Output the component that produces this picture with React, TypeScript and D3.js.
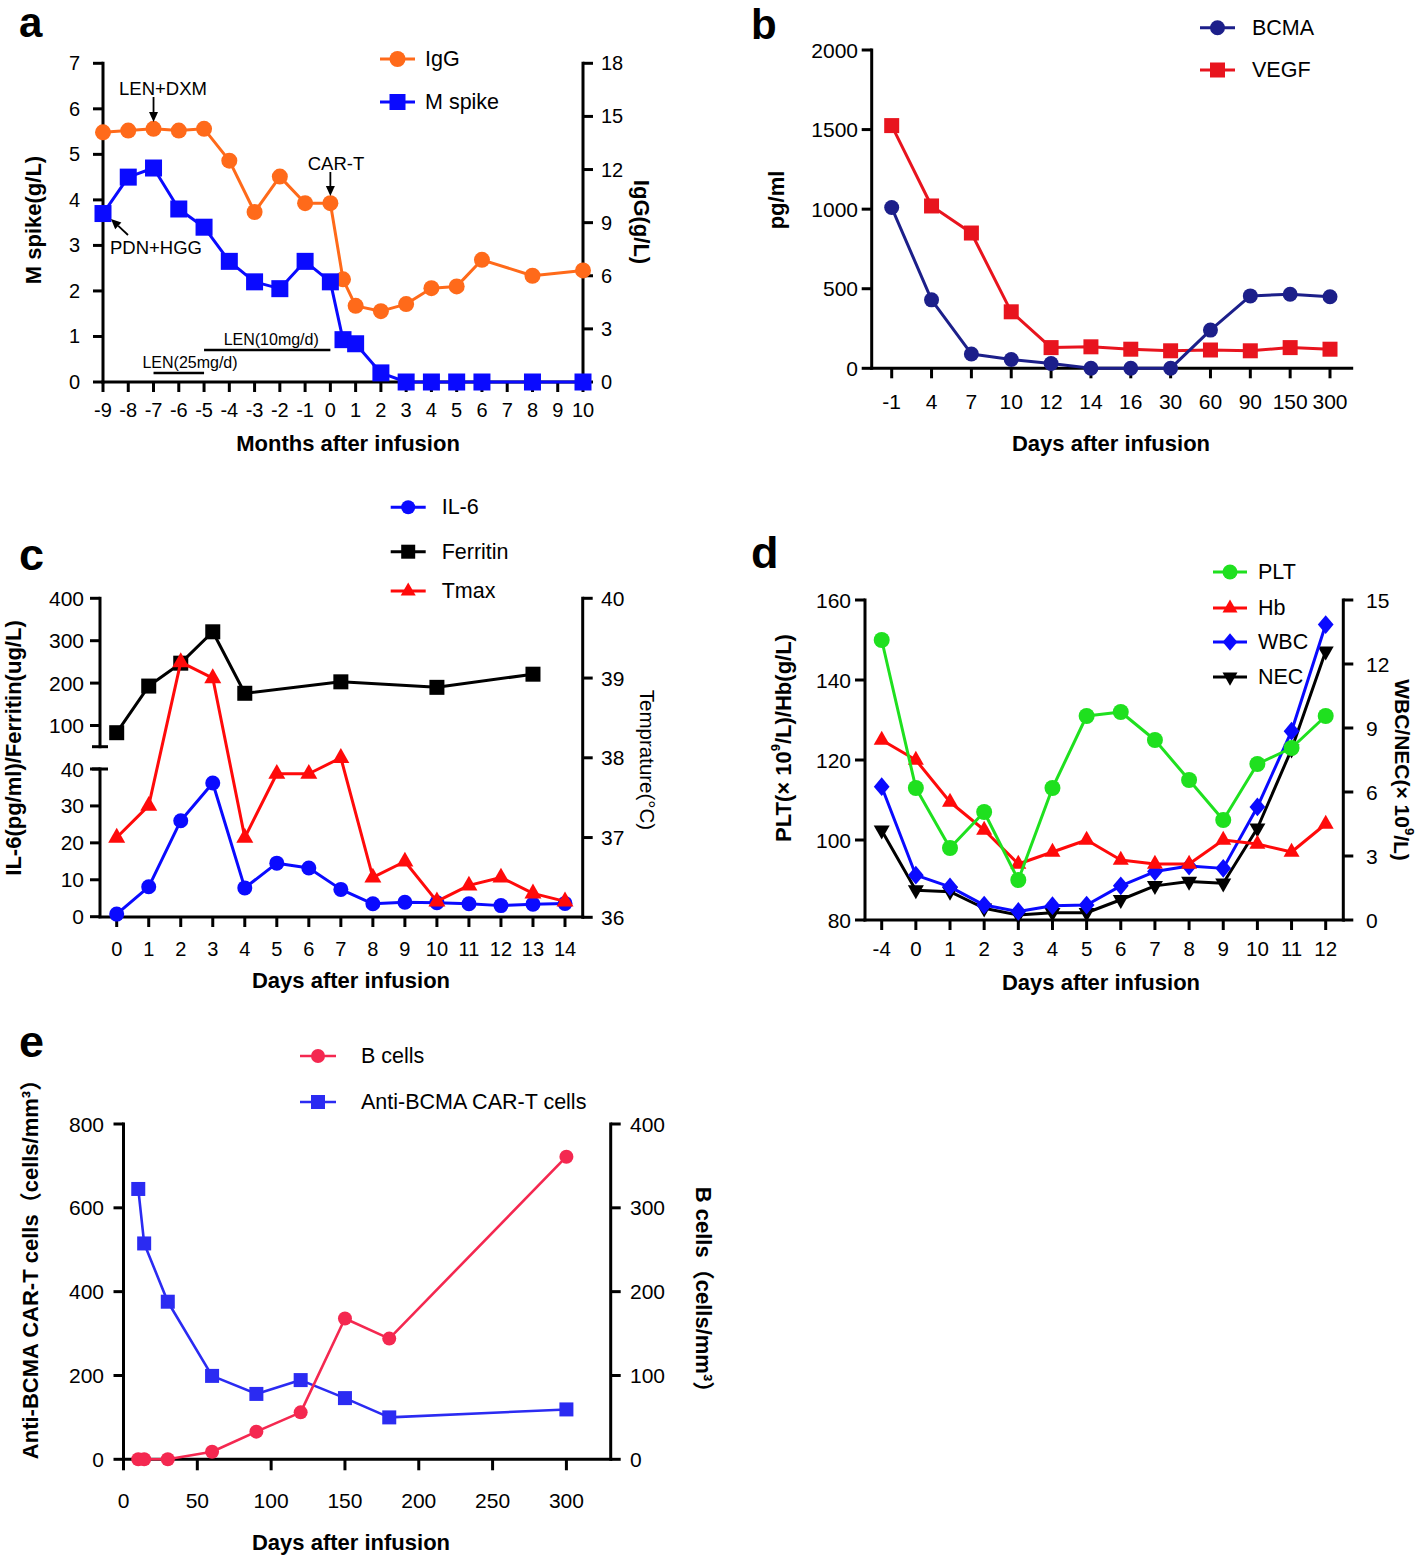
import React from 'react';
import * as d3 from 'd3';

const FONT = '"Liberation Sans", Arial, Helvetica, "Noto Sans CJK SC", sans-serif';

// ---------- Panel a ----------
const aMonths = [-9, -8, -7, -6, -5, -4, -3, -2, -1, 0, 0.5, 1, 2, 3, 4, 5, 6, 8, 10];
const aIgG = [14.1, 14.2, 14.3, 14.2, 14.3, 12.5, 9.6, 11.6, 10.1, 10.1, 5.8, 4.3, 4.0, 4.4, 5.3, 5.4, 6.9, 6.0, 6.3];
const aMspike = [3.7, 4.5, 4.7, 3.8, 3.4, 2.65, 2.2, 2.05, 2.65, 2.2, 0.93, 0.84, 0.2, 0, 0, 0, 0, 0, 0];
const aXTicks = d3.range(-9, 11);
const aLeftTicks = [0, 1, 2, 3, 4, 5, 6, 7];
const aRightTicks = [0, 3, 6, 9, 12, 15, 18];

// ---------- Panel b ----------
const bDays = ['-1', '4', '7', '10', '12', '14', '16', '30', '60', '90', '150', '300'];
const bBCMA = [1010, 430, 90, 55, 30, 0, 0, 0, 240, 455, 465, 450];
const bVEGF = [1525, 1020, 850, 355, 130, 135, 120, 110, 115, 110, 130, 120];
const bYTicks = [0, 500, 1000, 1500, 2000];

// ---------- Panel c ----------
const cDays = d3.range(0, 15);
const cIL6 = [0.7, 8.1, 26, 36.2, 7.8, 14.5, 13.2, 7.4, 3.5, 3.9, 3.8, 3.5, 3.0, 3.4, 3.6];
const cFerritinDays = [0, 1, 2, 3, 4, 7, 10, 13];
const cFerritin = [83, 193, 247, 321, 176, 203, 190, 221];
const cTmax = [37.0, 37.4, 39.2, 39.0, 37.0, 37.8, 37.8, 38.0, 36.5, 36.7, 36.2, 36.4, 36.5, 36.3, 36.2];
const cUpperTicks = [100, 200, 300, 400];
const cLowerTicks = [0, 10, 20, 30, 40];
const cTempTicks = [36, 37, 38, 39, 40];

// ---------- Panel d ----------
const dDays = ['-4', '0', '1', '2', '3', '4', '5', '6', '7', '8', '9', '10', '11', '12'];
const dPLT = [150, 113, 98, 107, 90, 113, 131, 132, 125, 115, 105, 119, 123, 131];
const dHb = [125, 120, 109.5, 102.5, 94, 97, 100, 95, 94, 94, 100, 99, 97, 104];
const dWBC = [6.25, 2.1, 1.55, 0.7, 0.4, 0.67, 0.7, 1.6, 2.27, 2.53, 2.42, 5.3, 8.85, 13.85];
const dNEC = [4.2, 1.4, 1.33, 0.55, 0.23, 0.34, 0.34, 0.95, 1.6, 1.8, 1.72, 4.3, 8.0, 12.6];
const dLeftTicks = [80, 100, 120, 140, 160];
const dRightTicks = [0, 3, 6, 9, 12, 15];

// ---------- Panel e ----------
const eDays = [10, 14, 30, 60, 90, 120, 150, 180, 300];
const eCART = [645, 515, 376, 199, 156, 189, 146, 100, 119];
const eBcells = [0, 0, 0, 9, 33, 56, 168, 144, 361];
const eXTicks = [0, 50, 100, 150, 200, 250, 300];
const eLeftTicks = [0, 200, 400, 600, 800];
const eRightTicks = [0, 100, 200, 300, 400];

type MarkerType = 'circle' | 'square' | 'triangle' | 'triangleDown' | 'diamond';

function Marker({ type, x, y, s, color }: { type: MarkerType; x: number; y: number; s: number; color: string }) {
  if (type === 'circle') return <circle cx={x} cy={y} r={s} fill={color} />;
  if (type === 'square') return <rect x={x - s} y={y - s} width={2 * s} height={2 * s} fill={color} />;
  if (type === 'diamond')
    return <path d={`M${x},${y - s * 1.25}L${x + s * 1.05},${y}L${x},${y + s * 1.25}L${x - s * 1.05},${y}Z`} fill={color} />;
  if (type === 'triangle')
    return <path d={`M${x},${y - s * 1.15}L${x + s},${y + s * 0.6}L${x - s},${y + s * 0.6}Z`} fill={color} />;
  return <path d={`M${x},${y + s * 1.15}L${x + s},${y - s * 0.6}L${x - s},${y - s * 0.6}Z`} fill={color} />;
}

function Series({ xs, ys, color, marker, s, sw = 3 }: { xs: number[]; ys: number[]; color: string; marker: MarkerType; s: number; sw?: number }) {
  const pts: [number, number][] = xs.map((x, i) => [x, ys[i]]);
  const d = d3.line()(pts) || '';
  return (
    <g>
      <path d={d} fill="none" stroke={color} strokeWidth={sw} strokeLinejoin="round" />
      {pts.map(([x, y], i) => (
        <Marker key={i} type={marker} x={x} y={y} s={s} color={color} />
      ))}
    </g>
  );
}

function YAxis({ x, scale, ticks, side, labelX, fontSize = 21, y0, y1, tickLen = 10, line = true }: any) {
  const r = scale.range();
  const a = y0 !== undefined ? y0 : r[0];
  const b = y1 !== undefined ? y1 : r[1];
  const dir = side === 'left' ? -1 : 1;
  return (
    <g>
      {line && <line x1={x} x2={x} y1={a} y2={b} stroke="#000" strokeWidth={3} strokeLinecap="square" />}
      {ticks.map((t: number) => (
        <g key={t}>
          <line x1={x} x2={x + dir * tickLen} y1={scale(t)} y2={scale(t)} stroke="#000" strokeWidth={3} />
          <text x={labelX} y={scale(t)} textAnchor={side === 'left' ? 'end' : 'start'} dominantBaseline="central" fontSize={fontSize}>
            {t}
          </text>
        </g>
      ))}
    </g>
  );
}

function XAxis({ y, x0, x1, ticks, labelY, fontSize = 20, tickLen = 10 }: any) {
  return (
    <g>
      <line x1={x0} x2={x1} y1={y} y2={y} stroke="#000" strokeWidth={3} strokeLinecap="square" />
      {ticks.map((t: any, i: number) => (
        <g key={i}>
          <line x1={t.pos} x2={t.pos} y1={y} y2={y + tickLen} stroke="#000" strokeWidth={3} />
          <text x={t.pos} y={labelY} textAnchor="middle" dominantBaseline="central" fontSize={fontSize}>
            {t.label}
          </text>
        </g>
      ))}
    </g>
  );
}

function Legend({ items, x0, x1, textX, fontSize = 21.5, sw = 3 }: any) {
  return (
    <g>
      {items.map((it: any, i: number) => (
        <g key={i}>
          <line x1={x0} x2={x1} y1={it.y} y2={it.y} stroke={it.color} strokeWidth={sw} />
          <Marker type={it.marker} x={(x0 + x1) / 2} y={it.y} s={it.s} color={it.color} />
          <text x={textX} y={it.y} dominantBaseline="central" fontSize={fontSize}>
            {it.label}
          </text>
        </g>
      ))}
    </g>
  );
}

function Title({ x, y, rot = 0, children, bold = true, fontSize = 22 }: any) {
  return (
    <text
      transform={`translate(${x},${y}) rotate(${rot})`}
      textAnchor="middle"
      dominantBaseline="central"
      fontSize={fontSize}
      fontWeight={bold ? 'bold' : 'normal'}
    >
      {children}
    </text>
  );
}

function Arrow({ x1, y1, x2, y2 }: { x1: number; y1: number; x2: number; y2: number }) {
  const len = Math.hypot(x2 - x1, y2 - y1);
  const ux = (x2 - x1) / len;
  const uy = (y2 - y1) / len;
  const hl = 10;
  const hw = 4.5;
  const bx = x2 - ux * hl;
  const by = y2 - uy * hl;
  return (
    <g>
      <line x1={x1} y1={y1} x2={bx} y2={by} stroke="#000" strokeWidth={1.8} />
      <path d={`M${x2},${y2}L${bx - uy * hw},${by + ux * hw}L${bx + uy * hw},${by - ux * hw}Z`} fill="#000" />
    </g>
  );
}

function PanelA() {
  const x = d3.scaleLinear().domain([-9, 10]).range([103, 583]);
  const yL = d3.scaleLinear().domain([0, 7]).range([382, 63.3]);
  const yR = d3.scaleLinear().domain([0, 18]).range([382, 63.3]);
  const orange = '#FF6A1A';
  const blue = '#0A0AFF';
  return (
    <g>
      <text x={19} y={37} fontSize={42} fontWeight="bold">a</text>
      <YAxis x={x(-9)} scale={yL} ticks={aLeftTicks} side="left" labelX={80} fontSize={20} />
      <YAxis x={x(10)} scale={yR} ticks={aRightTicks} side="right" labelX={601} fontSize={20} />
      <XAxis y={yL(0)} x0={x(-9)} x1={x(10)} ticks={aXTicks.map((t) => ({ pos: x(t), label: t }))} labelY={410} fontSize={20} />
      <Series xs={aMonths.map((m) => x(m))} ys={aIgG.map((v) => yR(v))} color={orange} marker="circle" s={8} />
      <Series xs={aMonths.map((m) => x(m))} ys={aMspike.map((v) => yL(v))} color={blue} marker="square" s={8.5} />
      <line x1={x(-5)} x2={x(0)} y1={350} y2={350} stroke="#000" strokeWidth={2.5} />
      <text x={(x(-5) + x(0)) / 2 + 4} y={339} textAnchor="middle" dominantBaseline="central" fontSize={16}>LEN(10mg/d)</text>
      <line x1={x(-7)} x2={x(-5)} y1={373} y2={373} stroke="#000" strokeWidth={2.5} />
      <text x={190} y={362} textAnchor="middle" dominantBaseline="central" fontSize={16}>LEN(25mg/d)</text>
      <text x={163} y={88} textAnchor="middle" dominantBaseline="central" fontSize={18.5}>LEN+DXM</text>
      <Arrow x1={x(-7)} y1={97} x2={x(-7)} y2={122} />
      <text x={336} y={163} textAnchor="middle" dominantBaseline="central" fontSize={18.5}>CAR-T</text>
      <Arrow x1={x(0)} y1={172} x2={x(0)} y2={196} />
      <text x={110} y={247} dominantBaseline="central" fontSize={18.5}>PDN+HGG</text>
      <Arrow x1={128} y1={235} x2={111} y2={219} />
      <Legend
        x0={380}
        x1={415}
        textX={425}
        items={[
          { label: 'IgG', color: orange, marker: 'circle', s: 8, y: 59 },
          { label: 'M spike', color: blue, marker: 'square', s: 8, y: 102 },
        ]}
      />
      <Title x={348} y={443}>Months after infusion</Title>
      <Title x={33} y={220} rot={-90}>M spike(g/L)</Title>
      <Title x={641} y={222} rot={90}>IgG(g/L)</Title>
    </g>
  );
}

function PanelB() {
  const x = d3.scalePoint<string>().domain(bDays).range([891.7, 1330]);
  const y = d3.scaleLinear().domain([0, 2000]).range([368.3, 50]);
  const navy = '#1C1F8A';
  const red = '#E8141E';
  return (
    <g>
      <text x={751} y={39} fontSize={42} fontWeight="bold">b</text>
      <YAxis x={871.7} scale={y} ticks={bYTicks} side="left" labelX={858} />
      <XAxis y={y(0)} x0={871.7} x1={1351.7} ticks={bDays.map((d) => ({ pos: x(d), label: d }))} labelY={401} fontSize={21} />
      <Series xs={bDays.map((d) => x(d) as number)} ys={bVEGF.map((v) => y(v))} color={red} marker="square" s={7.5} />
      <Series xs={bDays.map((d) => x(d) as number)} ys={bBCMA.map((v) => y(v))} color={navy} marker="circle" s={7.5} />
      <Legend
        x0={1200}
        x1={1235}
        textX={1252}
        items={[
          { label: 'BCMA', color: navy, marker: 'circle', s: 7.5, y: 27.7 },
          { label: 'VEGF', color: red, marker: 'square', s: 7.5, y: 70 },
        ]}
      />
      <Title x={1111} y={443}>Days after infusion</Title>
      <Title x={776} y={200} rot={-90}>pg/ml</Title>
    </g>
  );
}

function PanelC() {
  const x = d3.scaleLinear().domain([0, 14]).range([116.7, 565]);
  const yU = d3.scaleLinear().domain([50, 400]).range([746.7, 598.3]);
  const yLo = d3.scaleLinear().domain([0, 40]).range([916.7, 769]);
  const yT = d3.scaleLinear().domain([36, 40]).range([917.3, 598.3]);
  const blue = '#0A0AFF';
  const red = '#FF0A0A';
  return (
    <g>
      <text x={19} y={570} fontSize={45} fontWeight="bold">c</text>
      <YAxis x={100} scale={yU} ticks={cUpperTicks} side="left" labelX={84} y0={598.3} y1={746.7} />
      <line x1={92} x2={108} y1={746.7} y2={746.7} stroke="#000" strokeWidth={3} />
      <YAxis x={100} scale={yLo} ticks={cLowerTicks} side="left" labelX={84} y0={769} y1={916.7} />
      <line x1={92} x2={108} y1={769} y2={769} stroke="#000" strokeWidth={3} />
      <YAxis x={582.7} scale={yT} ticks={cTempTicks} side="right" labelX={601} />
      <XAxis y={917} x0={100} x1={582.7} ticks={cDays.map((d) => ({ pos: x(d), label: d }))} labelY={949} fontSize={20} />
      <Series xs={cFerritinDays.map((d) => x(d))} ys={cFerritin.map((v) => yU(v))} color="#000" marker="square" s={7.5} />
      <Series xs={cDays.map((d) => x(d))} ys={cIL6.map((v) => yLo(v))} color={blue} marker="circle" s={7.5} />
      <Series xs={cDays.map((d) => x(d))} ys={cTmax.map((v) => yT(v))} color={red} marker="triangle" s={8.5} />
      <Legend
        x0={390.7}
        x1={425.7}
        textX={441.7}
        items={[
          { label: 'IL-6', color: blue, marker: 'circle', s: 7, y: 507.3 },
          { label: 'Ferritin', color: '#000', marker: 'square', s: 7, y: 551.7 },
          { label: 'Tmax', color: red, marker: 'triangle', s: 7.5, y: 591 },
        ]}
      />
      <Title x={351} y={980}>Days after infusion</Title>
      <Title x={13} y={748} rot={-90}>IL-6(pg/ml)/Ferritin(ug/L)</Title>
      <Title x={647} y={760} rot={90} bold={false} fontSize={20.5}>Temprature(°C)</Title>
    </g>
  );
}

function PanelD() {
  const x = d3.scalePoint<string>().domain(dDays).range([881.7, 1325.7]);
  const yL = d3.scaleLinear().domain([80, 160]).range([920, 600]);
  const yR = d3.scaleLinear().domain([0, 15]).range([920, 600]);
  const green = '#1FE01F';
  const red = '#FF0A0A';
  const blue = '#0A0AFF';
  const xs = dDays.map((d) => x(d) as number);
  return (
    <g>
      <text x={751} y={568} fontSize={45} fontWeight="bold">d</text>
      <YAxis x={865} scale={yL} ticks={dLeftTicks} side="left" labelX={851} />
      <YAxis x={1343.3} scale={yR} ticks={dRightTicks} side="right" labelX={1366} />
      <XAxis y={920} x0={865} x1={1343.3} ticks={dDays.map((d) => ({ pos: x(d), label: d }))} labelY={948} fontSize={20.5} />
      <Series xs={xs} ys={dNEC.map((v) => yR(v))} color="#000" marker="triangleDown" s={8} />
      <Series xs={xs} ys={dWBC.map((v) => yR(v))} color={blue} marker="diamond" s={7.5} />
      <Series xs={xs} ys={dHb.map((v) => yL(v))} color={red} marker="triangle" s={8} />
      <Series xs={xs} ys={dPLT.map((v) => yL(v))} color={green} marker="circle" s={8} />
      <Legend
        x0={1213}
        x1={1247}
        textX={1258}
        items={[
          { label: 'PLT', color: green, marker: 'circle', s: 7.5, y: 572 },
          { label: 'Hb', color: red, marker: 'triangle', s: 7.5, y: 608 },
          { label: 'WBC', color: blue, marker: 'diamond', s: 7, y: 642 },
          { label: 'NEC', color: '#000', marker: 'triangleDown', s: 7.5, y: 677 },
        ]}
      />
      <Title x={1101} y={982}>Days after infusion</Title>
      <Title x={783} y={738} rot={-90}>
        PLT(× 10<tspan dy={-8} fontSize={13}>9</tspan>
        <tspan dy={8}>/L)/Hb(g/L)</tspan>
      </Title>
      <Title x={1402} y={770} rot={90} fontSize={21}>
        WBC/NEC(× 10<tspan dy={-8} fontSize={13}>9</tspan>
        <tspan dy={8}>/L)</tspan>
      </Title>
    </g>
  );
}

function PanelE() {
  const x = d3.scaleLinear().domain([0, 330]).range([123.5, 610.7]);
  const yL = d3.scaleLinear().domain([0, 800]).range([1459.3, 1124]);
  const yR = d3.scaleLinear().domain([0, 400]).range([1459.3, 1124]);
  const red = '#F42850';
  const blue = '#2B2BF2';
  return (
    <g>
      <text x={19} y={1057} fontSize={45} fontWeight="bold">e</text>
      <YAxis x={123.5} scale={yL} ticks={eLeftTicks} side="left" labelX={104} />
      <YAxis x={610.7} scale={yR} ticks={eRightTicks} side="right" labelX={630} />
      <XAxis y={1459.3} x0={123.5} x1={610.7} ticks={eXTicks.map((d) => ({ pos: x(d), label: d }))} labelY={1500} fontSize={21} tickLen={11} />
      <Series xs={eDays.map((d) => x(d))} ys={eCART.map((v) => yL(v))} color={blue} marker="square" s={7} sw={2.6} />
      <Series xs={eDays.map((d) => x(d))} ys={eBcells.map((v) => yR(v))} color={red} marker="circle" s={7} sw={2.6} />
      <Legend
        x0={300}
        x1={336}
        textX={361}
        sw={2.6}
        items={[
          { label: 'B cells', color: red, marker: 'circle', s: 7, y: 1056 },
          { label: 'Anti-BCMA CAR-T cells', color: blue, marker: 'square', s: 7, y: 1102 },
        ]}
      />
      <Title x={351} y={1542}>Days after infusion</Title>
      <Title x={30} y={1264} rot={-90}>Anti-BCMA CAR-T cells（cells/mm³）</Title>
      <Title x={703} y={1295} rot={90}>B cells（cells/mm³）</Title>
    </g>
  );
}

export default function App() {
  return (
    <svg
      width={1418}
      height={1557}
      viewBox="0 0 1418 1557"
      style={{ position: 'absolute', left: 0, top: 0, background: '#fff' }}
      fontFamily={FONT}
    >
      <rect x={0} y={0} width={1418} height={1557} fill="#fff" />
      <PanelA />
      <PanelB />
      <PanelC />
      <PanelD />
      <PanelE />
    </svg>
  );
}
